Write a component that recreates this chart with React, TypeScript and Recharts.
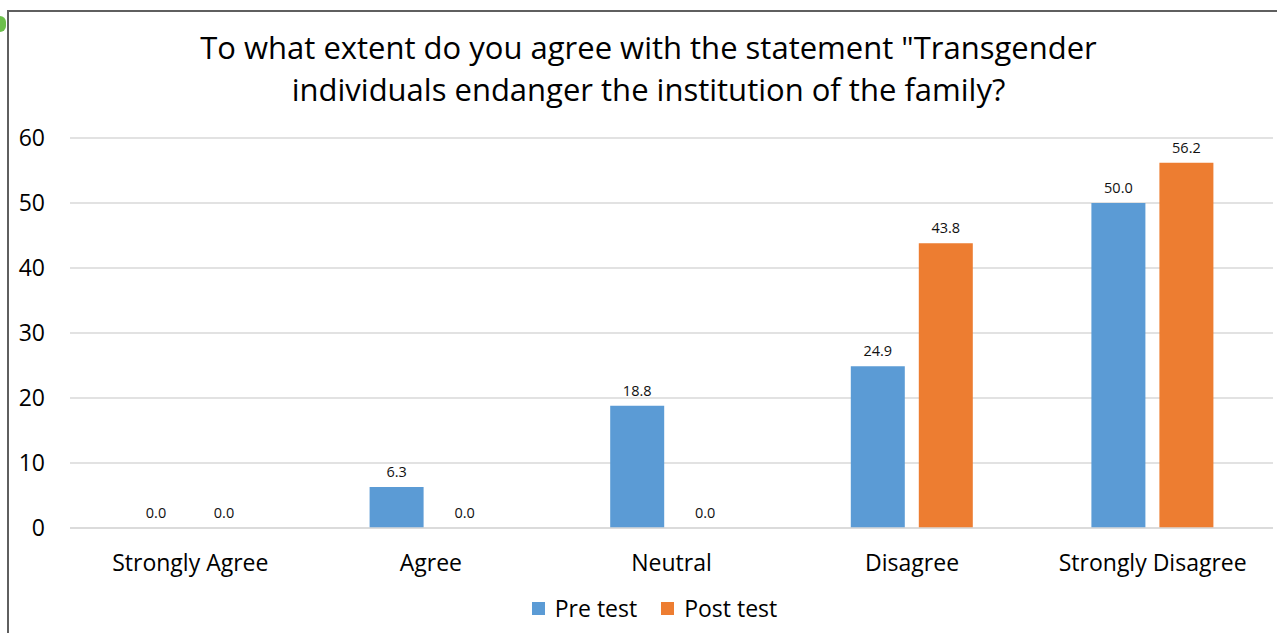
import { BarChart, Bar, XAxis, YAxis, CartesianGrid, LabelList } from 'recharts';

const categories = ['Strongly Agree', 'Agree', 'Neutral', 'Disagree', 'Strongly Disagree'];
const preTest = [0.0, 6.3, 18.8, 24.9, 50.0];
const postTest = [0.0, 0.0, 0.0, 43.8, 56.2];
const yTicks = [0, 10, 20, 30, 40, 50, 60];
const titleLines = [
  'To what extent do you agree with the statement "Transgender',
  'individuals endanger the institution of the family?',
];

const SERIES = [
  { key: 'pre', name: 'Pre test', color: '#5B9BD5' },
  { key: 'post', name: 'Post test', color: '#ED7D31' },
];

const FONT = '"Open Sans", "Noto Sans", sans-serif';

const data = categories.map((name, i) => ({ name, pre: preTest[i], post: postTest[i] }));

// value label above each bar, drawn even when the bar has no height
const ValueLabel = (props: any) => {
  const { x, y, width, value } = props;
  if (value == null) return null;
  return (
    <text
      x={Number(x) + Number(width) / 2}
      y={Number(y) - 10}
      textAnchor="middle"
      fill="#111"
      fontSize={14.5}
      fontFamily={FONT}
    >
      {Number(value).toFixed(1)}
    </text>
  );
};

export default function App() {
  return (
    <div style={{ position: 'absolute', left: 0, top: 0, width: 1277, height: 633, background: '#fff', overflow: 'hidden', fontFamily: FONT }}>
      {/* frame */}
      <div style={{ position: 'absolute', left: 7, top: 10, width: 1300, height: 700, borderLeft: '2px solid #5f5f5f', borderTop: '2px solid #5f5f5f' }} />
      <div style={{ position: 'absolute', left: -6, top: 16, width: 12, height: 16, borderRadius: 8, background: '#6cbf4a' }} />

      <div style={{ position: 'absolute', left: 0, top: 26, width: 1297, textAlign: 'center', fontSize: 31, lineHeight: '42px', color: '#000' }}>
        {titleLines.map((t) => (
          <div key={t}>{t}</div>
        ))}
      </div>

      <div style={{ position: 'absolute', left: 0, top: 0 }}>
        <BarChart
          width={1277}
          height={633}
          data={data}
          margin={{ top: 138, right: 4, left: 10, bottom: 75 }}
          barSize={54}
          barGap={14}
        >
          <CartesianGrid vertical={false} stroke="#d9d9d9" strokeWidth={1.5} />
          <XAxis
            dataKey="name"
            axisLine={{ stroke: '#d9d9d9', strokeWidth: 1.5 }}
            tickLine={false}
            height={30}
            tickMargin={21}
            tick={{ fill: '#000', fontSize: 23, fontFamily: FONT }}
            interval={0}
          />
          <YAxis
            domain={[0, 60]}
            ticks={yTicks}
            width={60}
            axisLine={false}
            tickLine={false}
            tickMargin={19}
            tick={{ fill: '#000', fontSize: 23, fontFamily: FONT }}
          />
          {SERIES.map((s) => (
            <Bar key={s.key} dataKey={s.key} name={s.name} fill={s.color} minPointSize={0.01} isAnimationActive={false}>
              <LabelList dataKey={s.key} content={<ValueLabel />} />
            </Bar>
          ))}
        </BarChart>
      </div>

      {/* legend */}
      <div style={{ position: 'absolute', left: 0, top: 592, width: 1309, display: 'flex', justifyContent: 'center', gap: 24, fontSize: 23, color: '#000' }}>
        {SERIES.map((s) => (
          <div key={s.key} style={{ display: 'flex', alignItems: 'center' }}>
            <span style={{ display: 'inline-block', width: 13, height: 13, background: s.color, marginRight: 10 }} />
            <span>{s.name}</span>
          </div>
        ))}
      </div>
    </div>
  );
}
